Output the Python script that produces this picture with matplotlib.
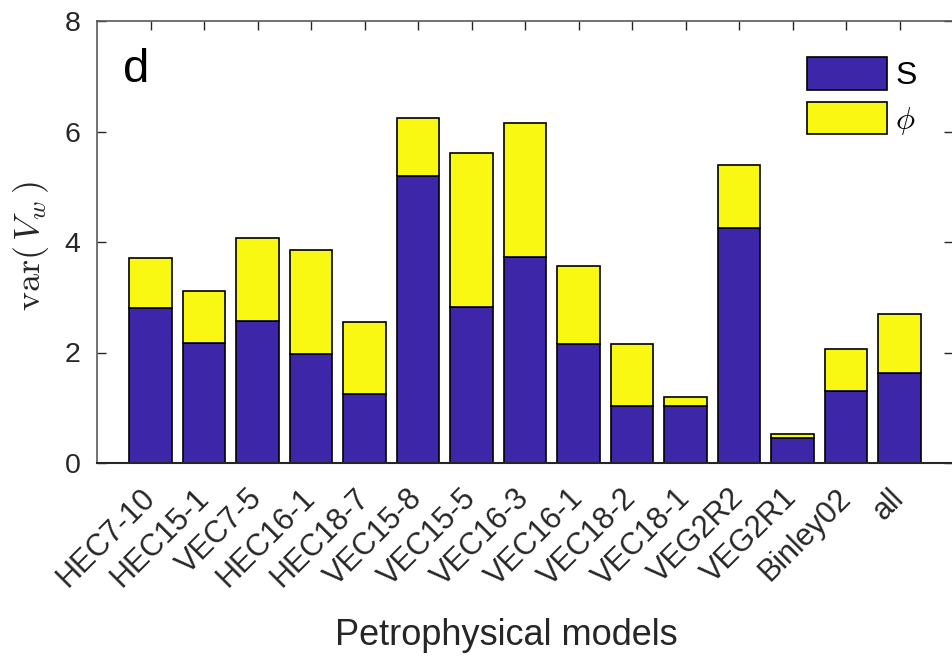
import matplotlib
matplotlib.use("Agg")
import matplotlib.pyplot as plt
import matplotlib.transforms as mtransforms
import numpy as np

# Variance of V_w split by contributing parameter, per petrophysical model
models = ["HEC7-10", "HEC15-1", "VEC7-5", "HEC16-1", "HEC18-7", "VEC15-8",
          "VEC15-5", "VEC16-3", "VEC16-1", "VEC18-2", "VEC18-1", "VEG2R2",
          "VEG2R1", "Binley02", "all"]
var_S = [2.80, 2.18, 2.57, 1.97, 1.25, 5.19, 2.82, 3.73, 2.15, 1.03, 1.03,
         4.25, 0.46, 1.30, 1.62]
var_phi = [0.91, 0.93, 1.50, 1.89, 1.30, 1.05, 2.79, 2.42, 1.42, 1.13, 0.16,
           1.14, 0.07, 0.76, 1.08]
y_ticks = [0, 2, 4, 6, 8]

BLUE = "#3d27a8"
YELLOW = "#f8f812"
DARK = "#262626"

plt.rcParams["font.family"] = ["Liberation Sans", "DejaVu Sans"]
plt.rcParams["mathtext.fontset"] = "cm"

fig = plt.figure(figsize=(9.52, 6.56), dpi=100)
ax = fig.add_axes([97 / 952, 1 - 463 / 656, 856 / 952, 442 / 656])

x = np.arange(1, len(models) + 1)
ax.bar(x, var_S, width=0.8, color=BLUE, edgecolor="black", linewidth=1.2,
       label="S", zorder=2)
ax.bar(x, var_phi, width=0.8, bottom=var_S, color=YELLOW, edgecolor="black",
       linewidth=1.2, label=r"$\phi$", zorder=2)

ax.set_xlim(0, 16)
ax.set_ylim(0, 8)
ax.set_yticks(y_ticks)
ax.set_xticks(x)
ax.set_xticklabels(models, rotation=45, ha="right", va="center",
                   rotation_mode="anchor", fontsize=22, color=DARK)
offset = mtransforms.ScaledTranslation(8 / 100, 0, fig.dpi_scale_trans)
for lab in ax.get_xticklabels():
    lab.set_transform(lab.get_transform() + offset)

ax.tick_params(axis="both", direction="in", length=6.5, width=1.0,
               color=DARK, top=True, right=True)
ax.tick_params(axis="x", pad=22)
ax.tick_params(axis="y", labelsize=20.5, labelcolor=DARK, pad=12)

for side in ["left", "top", "right"]:
    ax.spines[side].set_color("#5a5a5a")
    ax.spines[side].set_linewidth(1.2)
ax.spines["bottom"].set_color(DARK)
ax.spines["bottom"].set_linewidth(1.5)

ax.set_ylabel(r"$\mathrm{var}(\,V_w\,)$", fontsize=26, color=DARK)
ax.yaxis.set_label_coords(-0.054, 0.491)
ax.set_xlabel("Petrophysical models", fontsize=26, color=DARK)
ax.xaxis.set_label_coords(0.478, -0.350)
ax.xaxis.label.set_va("top")

ax.text(0.030, 0.862, "d", transform=ax.transAxes, fontsize=34,
        color="black", ha="left", va="baseline")

leg = ax.legend(loc="upper left", bbox_to_anchor=(0.830, 0.9186),
                frameon=False, fontsize=23, handlelength=2.5,
                handleheight=1.2, labelspacing=0.33, handletextpad=0.25,
                borderpad=0, borderaxespad=0)

fig.savefig("out.png", dpi=100)
